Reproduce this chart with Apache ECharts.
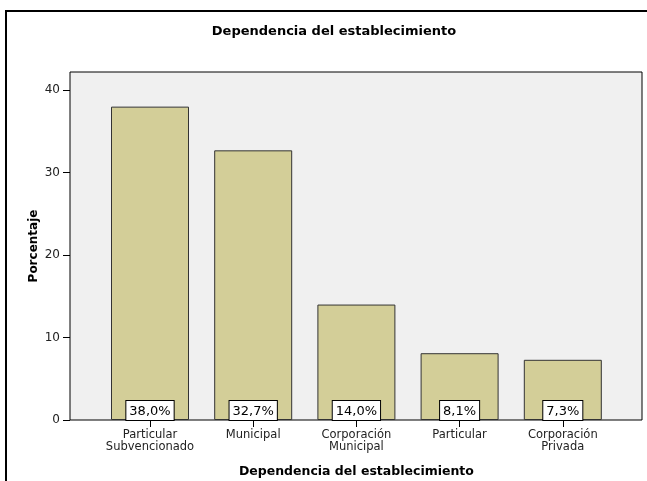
<!DOCTYPE html>
<html>
<head>
<meta charset="utf-8">
<script src="https://cdn.jsdelivr.net/npm/echarts@6/dist/echarts.min.js"></script>
<style>
  html, body { margin: 0; padding: 0; background: #fff; }
  #main { width: 647px; height: 481px; }
</style>
</head>
<body>
<div id="main"></div>
<script>
// datos
const categorias = ['Particular\nSubvencionado', 'Municipal', 'Corporación\nMunicipal', 'Particular', 'Corporación\nPrivada']
const porcentajes = [38.0, 32.7, 14.0, 8.1, 7.3]
const yTicks = [0, 10, 20, 30, 40]
const yMax = 42.2

const myChart = echarts.init(document.getElementById('main'))

const fmtPct = v => v.toFixed(1).replace('.', ',') + '%'

const options = {
  animation: false,
  textStyle: { fontFamily: 'DejaVu Sans' },
  graphic: [
    {
      type: 'rect',
      shape: { x: 6, y: 11, width: 720, height: 520 },
      style: { fill: 'none', stroke: '#000', lineWidth: 2 },
      z: 100
    },
    {
      type: 'text',
      x: 334,
      y: 25,
      style: {
        text: 'Dependencia del establecimiento',
        font: 'bold 13px "DejaVu Sans"',
        fill: '#000',
        align: 'center',
        textAlign: 'center'
      }
    }
  ],
  grid: [
    // marco del area de trazado
    {
      left: 70, right: 5, top: 72, bottom: 61,
      outerBoundsMode: 'none',
      containLabel: false,
      show: true,
      backgroundColor: '#f0f0f0',
      borderColor: '#000',
      borderWidth: 1,
      z: 0
    },
    // barras
    {
      left: 98.4, right: 32.6, top: 72, bottom: 61,
      outerBoundsMode: 'none',
      containLabel: false
    }
  ],
  xAxis: [
    {
      gridIndex: 0,
      type: 'value',
      show: false
    },
    {
      gridIndex: 1,
      type: 'category',
      data: categorias,
      axisLine: { show: false },
      axisTick: {
        show: true,
        alignWithLabel: true,
        length: 7,
        lineStyle: { color: '#000' }
      },
      axisLabel: {
        interval: 0,
        hideOverlap: false,
        margin: 9,
        fontSize: 11.5,
        lineHeight: 12,
        color: '#222'
      },
      name: 'Dependencia del establecimiento',
      nameLocation: 'middle',
      nameGap: 45,
      nameTextStyle: {
        fontWeight: 'bold',
        fontSize: 12.5,
        color: '#000'
      }
    }
  ],
  yAxis: [
    {
      gridIndex: 0,
      type: 'value',
      min: 0,
      max: yMax,
      axisLine: { show: false },
      splitLine: { show: false },
      axisTick: {
        show: true,
        length: 7,
        customValues: yTicks,
        lineStyle: { color: '#000' }
      },
      axisLabel: {
        margin: 10,
        fontSize: 12,
        color: '#222',
        customValues: yTicks
      },
      name: 'Porcentaje',
      nameLocation: 'middle',
      nameGap: 30,
      nameMoveOverlap: false,
      nameTextStyle: {
        fontWeight: 'bold',
        fontSize: 12,
        color: '#000'
      }
    },
    {
      gridIndex: 1,
      type: 'value',
      min: 0,
      max: yMax,
      show: false
    }
  ],
  series: [
    {
      type: 'bar',
      xAxisIndex: 1,
      yAxisIndex: 1,
      data: porcentajes,
      barWidth: 78,
      itemStyle: {
        color: '#d3ce98',
        borderColor: '#333',
        borderWidth: 1
      },
      label: {
        show: true,
        position: 'insideBottom',
        distance: 0,
        formatter: p => fmtPct(p.value),
        fontSize: 13,
        lineHeight: 15,
        color: '#000',
        backgroundColor: '#fff',
        borderColor: '#000',
        borderWidth: 1,
        padding: [3, 3, 1, 3]
      }
    }
  ]
}

myChart.setOption(options)
</script>
</body>
</html>
